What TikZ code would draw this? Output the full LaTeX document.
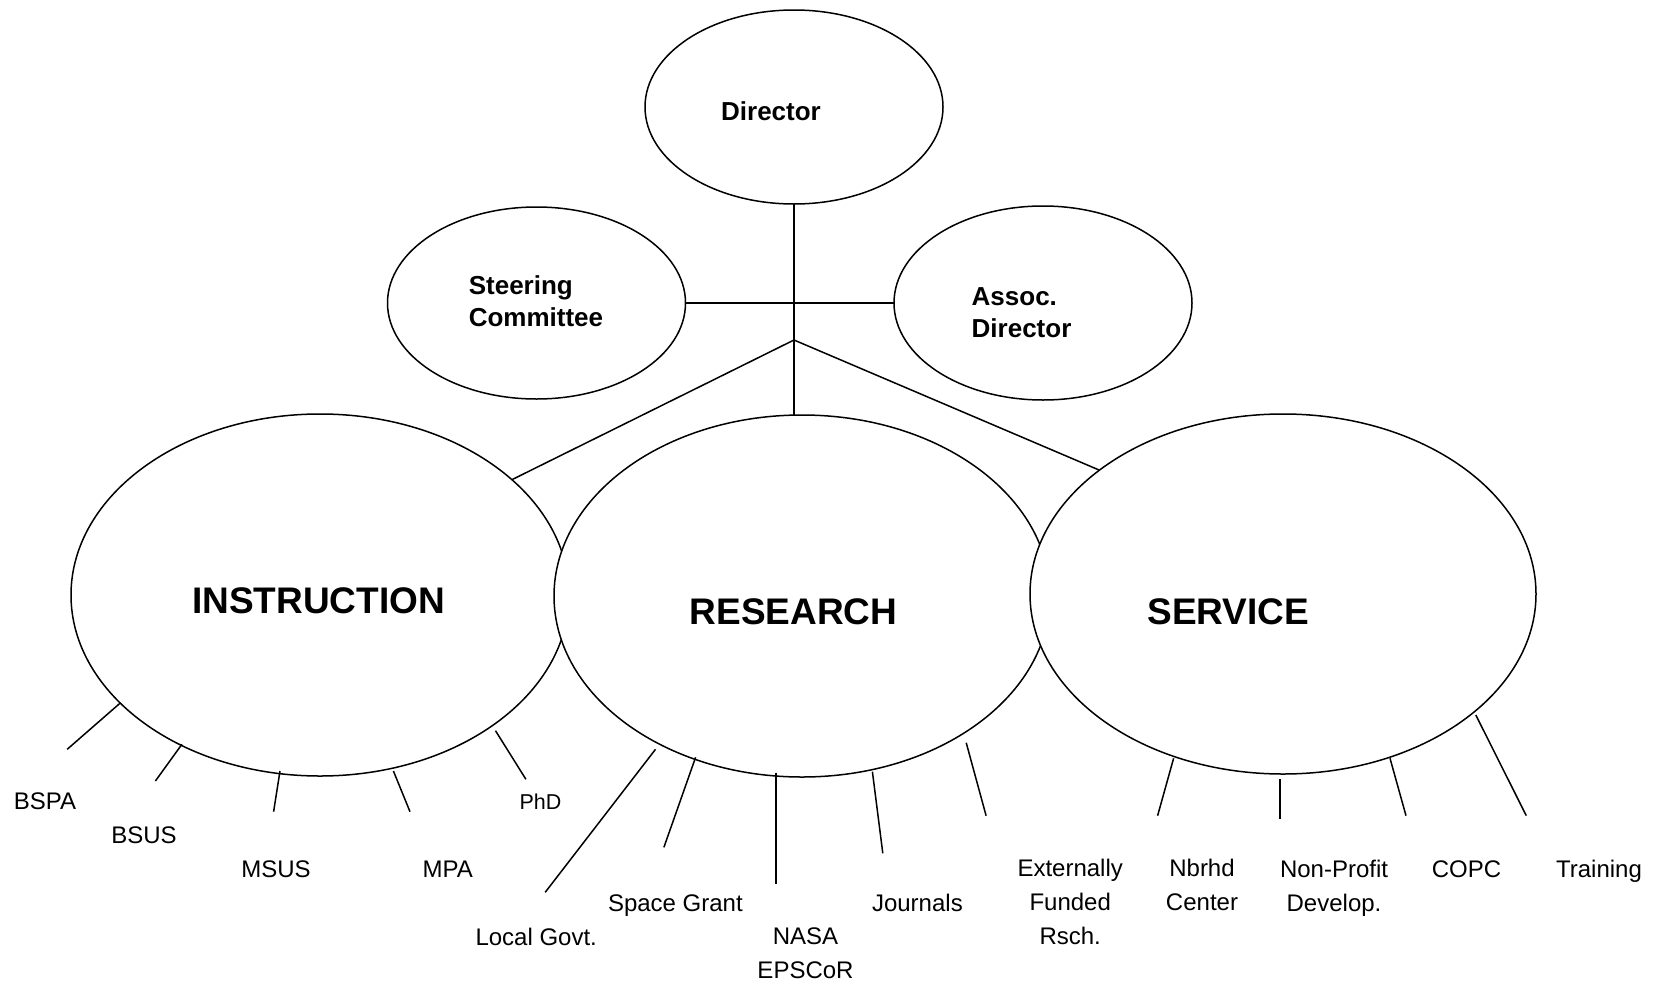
\documentclass[tikz,border=0pt]{standalone}
\usepackage{fontspec}
\setmainfont{Liberation Sans}
\usetikzlibrary{shapes.geometric}
\tikzset{
  ell/.style={draw, fill=white, ellipse, inner sep=0pt, outer sep=0pt, line width=1.5pt},
  conn/.style={line width=1.5pt},
  big/.style={font=\fontsize{37}{44}\selectfont\bfseries, inner sep=0pt},
  hd/.style={font=\fontsize{26}{32}\selectfont\bfseries, inner sep=0pt},
  leaf/.style={font=\fontsize{24}{34}\selectfont, inner sep=0pt},
  small/.style={font=\fontsize{21.5}{30}\selectfont, inner sep=0pt},
}
\begin{document}
\begin{tikzpicture}[x=1pt,y=-1pt]
\useasboundingbox (0,0) rectangle (1659,985);
% ellipses (later ones cover earlier ones where they overlap)
\node[ell, minimum width=298pt, minimum height=194pt] (dir) at (794,107) {};
\node[ell, minimum width=298pt, minimum height=192pt] (sc) at (536.5,303) {};
\node[ell, minimum width=298pt, minimum height=194pt] (ad) at (1043,303) {};
\node[ell, minimum width=498pt, minimum height=362pt] (instr) at (320,595) {};
\node[ell, minimum width=496pt, minimum height=362pt] (res) at (802,596) {};
\node[ell, minimum width=506pt, minimum height=360pt] (serv) at (1283,594) {};
% ellipse texts
\node[hd, anchor=base] (dirtxt) at (771,120) {Director};
\node[hd, align=left, anchor=west] (sctxt) at (468.6,301.5) {Steering\\Committee};
\node[hd, align=left, anchor=west] (adtxt) at (971.5,312.5) {Assoc.\\Director};
\node[big, anchor=base] (instrtxt) at (318.5,613) {INSTRUCTION};
\node[big, anchor=base] (restxt) at (793.5,624) {RESEARCH};
\node[big, anchor=base] (servtxt) at (1228.4,624) {SERVICE};
% main connectors
\draw[conn] (dir.south) -- (dir.south |- res.north);
\draw[conn] (sc.east) -- (ad.west);
\coordinate (j) at (794,340);
\draw[conn] (j) -- (instr.31.6);
\draw[conn] (j) -- (serv.146.3);
% leaf labels
\node[leaf, anchor=base] (bspa) at (45,809) {BSPA};
\node[leaf, anchor=base] (bsus) at (144,843) {BSUS};
\node[leaf, anchor=base] (msus) at (276,877) {MSUS};
\node[leaf, anchor=base] (mpa) at (447.8,877) {MPA};
\node[small, anchor=base] (phd) at (540.5,809) {PhD};
\node[leaf, anchor=base] (lgov) at (536.2,945) {Local Govt.};
\node[leaf, anchor=base] (sgrant) at (675.4,911) {Space Grant};
\node[leaf, align=center] (nasa) at (805.5,953.4) {NASA\\EPSCoR};
\node[leaf, anchor=base] (jour) at (917.4,911) {Journals};
\node[leaf, align=center] (ext) at (1070.2,902.4) {Externally\\Funded\\Rsch.};
\node[leaf, align=center] (nbr) at (1202,885.4) {Nbrhd\\Center};
\node[leaf, align=center] (npd) at (1334,887.9) {Non-Profit\\Develop.};
\node[leaf, anchor=base] (copc) at (1466.5,877) {COPC};
\node[leaf, anchor=base] (train) at (1599,877) {Training};
% leaf line end points
\coordinate (bspaA) at (120.6,702.7);  \coordinate (bspaB) at (67.2,749.3);
\coordinate (bsusA) at (181.9,744.3);  \coordinate (bsusB) at (155.4,781);
\coordinate (msusA) at (280,771);      \coordinate (msusB) at (273.6,811.7);
\coordinate (mpaA) at (393.4,771);     \coordinate (mpaB) at (410,811.7);
\coordinate (phdA) at (495.5,730.7);   \coordinate (phdB) at (525.9,779.3);
\coordinate (lgovA) at (655.5,749.3);  \coordinate (lgovB) at (545.2,892.3);
\coordinate (sgA) at (695.6,757.3);    \coordinate (sgB) at (663.9,847.3);
\coordinate (nasaA) at (776,772.7);    \coordinate (nasaB) at (776,884);
\coordinate (jourA) at (872.4,771.7);  \coordinate (jourB) at (882.8,853.3);
\coordinate (extA) at (966.2,742.7);   \coordinate (extB) at (986.1,815.7);
\coordinate (nbrA) at (1173.6,758.3);  \coordinate (nbrB) at (1157.6,815.7);
\coordinate (npdA) at (1280,779);      \coordinate (npdB) at (1280,819.3);
\coordinate (copcA) at (1390,758.3);   \coordinate (copcB) at (1406,815.7);
\coordinate (trainA) at (1475.8,715);  \coordinate (trainB) at (1526.3,815.7);
\foreach \n in {bspa,bsus,msus,mpa,phd,lgov,sg,nasa,jour,ext,nbr,npd,copc,train}
  \draw[conn] (\n A) -- (\n B);
\end{tikzpicture}
\end{document}
